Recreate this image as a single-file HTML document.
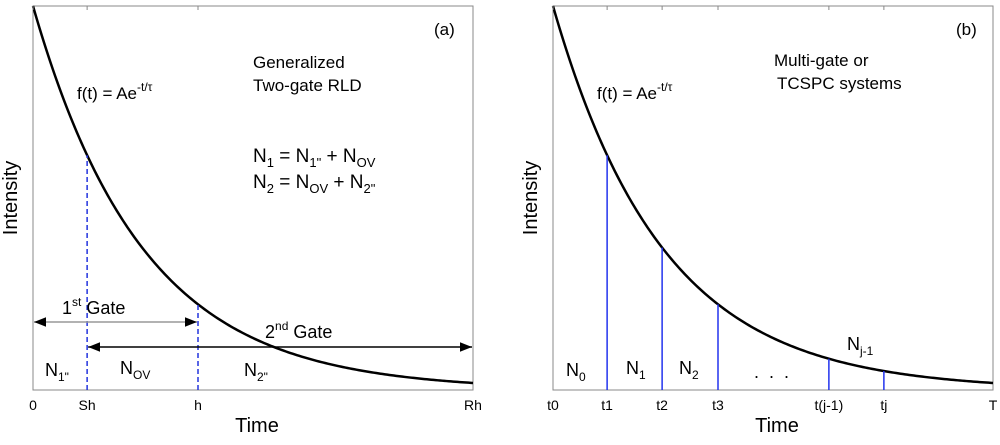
<!DOCTYPE html>
<html><head><meta charset="utf-8"><style>
body{margin:0;background:#fff}
svg{font-family:"Liberation Sans",sans-serif}
</style></head><body>
<svg width="1000" height="440" viewBox="0 0 1000 440">
<defs>
<marker id="ah" viewBox="0 0 10 10" refX="10" refY="5" markerWidth="8" markerHeight="8" orient="auto-start-reverse"><path d="M0,1L10,5L0,9z" fill="#000"/></marker>
</defs>
<g id="pa"></g>
<g id="pb"></g>
</svg>
<script>
const tau = 0.25;
const gateTicksA = [0, 0.123, 0.375, 1];
const gateLabelsA = ["0", "Sh", "h", "Rh"];
const gateTicksB = [0, 0.123, 0.248, 0.375, 0.627, 0.752, 1];
const gateLabelsB = ["t0", "t1", "t2", "t3", "t(j-1)", "tj", "T"];
const NS="http://www.w3.org/2000/svg";
function mk(p,tag,attrs,txt){const e=document.createElementNS(NS,tag);for(const k in attrs)e.setAttribute(k,attrs[k]);if(txt!==undefined)e.innerHTML=txt;p.appendChild(e);return e;}
function setup(g,x0){
  const W=440,top=6,bot=390;
  const sx=t=>x0+t*W, sy=v=>bot-v*(bot-top);
  const f=t=>Math.exp(-t/tau);
  const box=mk(g,'rect',{x:x0,y:top,width:W,height:bot-top,fill:'none',stroke:'#888','stroke-width':1});
  
  let d='';for(let i=0;i<=200;i++){const t=i/200;d+=(i?'L':'M')+sx(t).toFixed(2)+','+sy(f(t)).toFixed(2);}
  const c=mk(g,'path',{d:d,fill:'none',stroke:'#000','stroke-width':2.5});
  
  const yl=mk(g,'text',{x:0,y:0,'font-size':20,'text-anchor':'middle',transform:`translate(${x0-16},198) rotate(-90)`},'Intensity');
  
  const xl=mk(g,'text',{x:x0+W/2+4,y:432,'font-size':20,'text-anchor':'middle'},'Time');
  
  return {sx,sy,f,top,bot};
}
// Panel A
(function(){
  const g=document.getElementById('pa');const x0=33;
  const {sx,sy,f,top,bot}=setup(g,x0);
  gateTicksA.forEach((t,i)=>{
    mk(g,'line',{x1:sx(t),x2:sx(t),y1:top,y2:top+4,stroke:'#888'});
    const tl=mk(g,'text',{x:sx(t),y:410,'font-size':14,'text-anchor':'middle'},gateLabelsA[i]);
    
    if(i==1||i==2){const l=mk(g,'line',{x1:sx(t),x2:sx(t),y1:bot,y2:sy(f(t)),stroke:'#2233dd','stroke-width':1.5,'stroke-dasharray':'5,3'});
      }
  });
  const a1=mk(g,'line',{x1:sx(0)+1,x2:sx(gateTicksA[2])-1,y1:322,y2:322,stroke:'#999','stroke-width':1.5,'marker-start':'url(#ah)','marker-end':'url(#ah)'});
  
  const a2=mk(g,'line',{x1:sx(gateTicksA[1])+1,x2:sx(1)-1,y1:347,y2:347,stroke:'#000','stroke-width':1.5,'marker-start':'url(#ah)','marker-end':'url(#ah)'});
  
  const T=(x,y,s,h,n)=>{const e=mk(g,'text',{x:x,y:y,'font-size':s},h);};
  T(62,314,18,'1<tspan dy="-8" font-size="12">st</tspan><tspan dy="8"> Gate</tspan>','first-gate-label');
  T(265,338,18,'2<tspan dy="-8" font-size="12">nd</tspan><tspan dy="8"> Gate</tspan>','second-gate-label');
  T(45,376,18,'N<tspan dy="5" font-size="12">1"</tspan>','n1-label');
  T(120,374,18,'N<tspan dy="5" font-size="12">OV</tspan>','nov-label');
  T(244,376,18,'N<tspan dy="5" font-size="12">2"</tspan>','n2-label');
  T(77,99,17,'f(t) = Ae<tspan dy="-8" font-size="12">-t/τ</tspan>','formula');
  T(253,68,17,'Generalized','method-title');
  T(253,91,17,'Two-gate RLD','method-title-2');
  T(253,162,19,'N<tspan dy="5" font-size="13">1</tspan><tspan dy="-5"> = N</tspan><tspan dy="5" font-size="13">1"</tspan><tspan dy="-5"> + N</tspan><tspan dy="5" font-size="13">OV</tspan>','equation-1');
  T(253,188,19,'N<tspan dy="5" font-size="13">2</tspan><tspan dy="-5"> = N</tspan><tspan dy="5" font-size="13">OV</tspan><tspan dy="-5"> + N</tspan><tspan dy="5" font-size="13">2"</tspan>','equation-2');
  T(434,35,17,'(a)','panel-label');
})();
// Panel B
(function(){
  const g=document.getElementById('pb');const x0=553;
  const {sx,sy,f,top,bot}=setup(g,x0);
  gateTicksB.forEach((t,i)=>{
    mk(g,'line',{x1:sx(t),x2:sx(t),y1:top,y2:top+4,stroke:'#888'});
    const tl=mk(g,'text',{x:sx(t),y:410,'font-size':14,'text-anchor':'middle'},gateLabelsB[i]);
    
    if(i>0&&i<gateTicksB.length-1){const l=mk(g,'line',{x1:sx(t),x2:sx(t),y1:bot,y2:sy(f(t)),stroke:'#2233ee','stroke-width':1.5});
      }
  });
  const T=(x,y,s,h,n)=>{const e=mk(g,'text',{x:x,y:y,'font-size':s},h);};
  T(566,376,18,'N<tspan dy="5" font-size="12">0</tspan>','n0-label');
  T(626,374,18,'N<tspan dy="5" font-size="12">1</tspan>','n1-label');
  T(679,374,18,'N<tspan dy="5" font-size="12">2</tspan>','n2-label');
  T(754,378,18,'.&#160;&#160;.&#160;&#160;.','ellipsis');
  T(847,350,18,'N<tspan dy="5" font-size="12">j-1</tspan>','nj-1-label');
  T(597,99,17,'f(t) = Ae<tspan dy="-8" font-size="12">-t/τ</tspan>','formula');
  T(774,66,17,'Multi-gate or','method-title');
  T(777,89,17,'TCSPC systems','method-title-2');
  T(956,35,17,'(b)','panel-label');
})();
</script>
</body></html>
